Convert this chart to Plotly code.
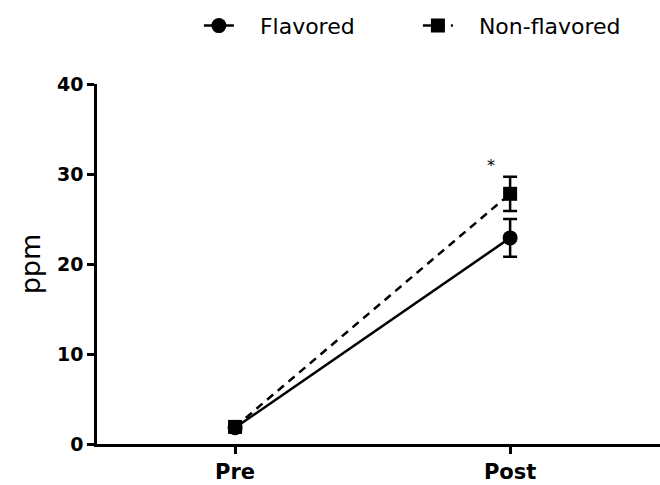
import plotly.graph_objects as go

categories = ["Pre", "Post"]
flavored = [1.8, 22.9]
flavored_err = [0.3, 2.1]
nonflavored = [1.9, 27.8]
nonflavored_err = [0.3, 1.9]
y_ticks = [0, 10, 20, 30, 40]
xpos = [0, 1]

NB = "\u00a0\u00a0\u00a0"

fig = go.Figure()
fig.add_trace(go.Scatter(
    x=xpos, y=flavored, name=NB + "Flavored", mode="lines+markers",
    line=dict(color="black", width=2.5, dash="solid"),
    marker=dict(symbol="circle", size=15, color="black"),
    error_y=dict(type="data", array=flavored_err, color="black", thickness=2.5, width=7),
))
fig.add_trace(go.Scatter(
    x=xpos, y=nonflavored, name=NB + "Non-flavored", mode="lines+markers",
    line=dict(color="black", width=2.5, dash="8px,6px"),
    marker=dict(symbol="square", size=14, color="black"),
    error_y=dict(type="data", array=nonflavored_err, color="black", thickness=2.5, width=7),
))
fig.add_annotation(x=0.93, y=31.0, text="*", showarrow=False,
                   font=dict(size=16, color="black", family="DejaVu Sans"))

fig.update_layout(
    width=660, height=485,
    margin=dict(l=97, r=0, t=84, b=41, autoexpand=False),
    paper_bgcolor="white", plot_bgcolor="white",
    font=dict(family="DejaVu Sans", color="black"),
    legend=dict(orientation="h", x=0.181, y=1.22, xanchor="left", yanchor="top",
                font=dict(size=22, family="DejaVu Sans"), traceorder="normal",
                entrywidth=174, entrywidthmode="pixels", bgcolor="rgba(0,0,0,0)"),
    showlegend=True,
)
fig.update_xaxes(
    range=[-0.502, 1.545], tickvals=xpos, ticktext=categories,
    showline=True, linecolor="black", linewidth=2.5, ticks="outside",
    ticklen=7, tickwidth=2.5, tickcolor="black", showgrid=False, zeroline=False,
    tickfont=dict(size=21, family="DejaVu Sans", weight="bold"),
)
fig.update_yaxes(
    range=[0, 40], tickvals=y_ticks,
    showline=True, linecolor="black", linewidth=2.5, ticks="outside",
    ticklen=7, tickwidth=2.5, tickcolor="black", showgrid=False, zeroline=False,
    tickfont=dict(size=19, family="DejaVu Sans", weight="bold"),
    title=dict(text="ppm", font=dict(size=27, family="DejaVu Sans"), standoff=9),
)
fig.write_html("out.html", config={"displayModeBar": False},
               post_script="document.body.style.margin='0';document.body.style.overflow='hidden';")
